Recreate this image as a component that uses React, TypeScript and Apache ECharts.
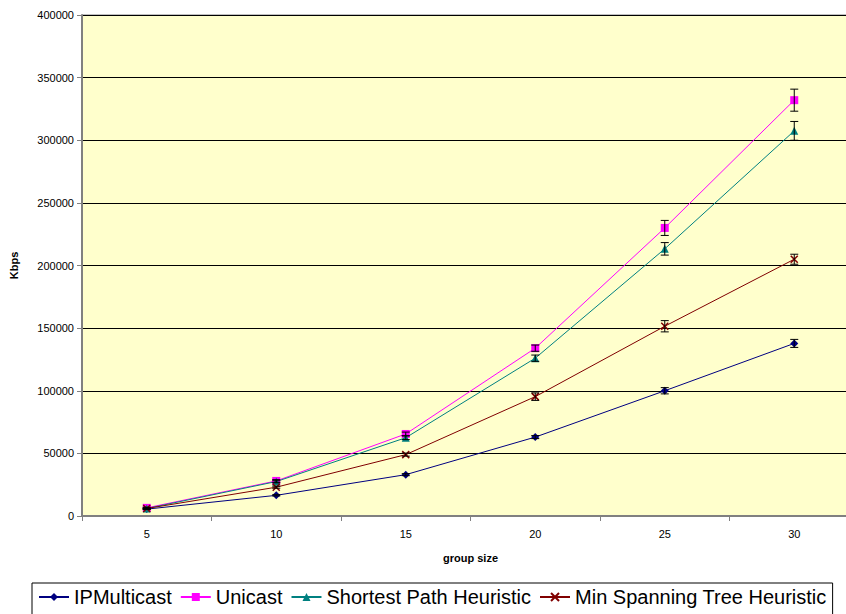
import React, { useEffect, useRef } from "react";
import * as echarts from "echarts";

const categories = ["5", "10", "15", "20", "25", "30"];
const yTicks = [0, 50000, 100000, 150000, 200000, 250000, 300000, 350000, 400000];

const ipMulticast = [5500, 16500, 33000, 63000, 100000, 137800];
const unicast = [6500, 28000, 65500, 134000, 230000, 332000];
const shortestPath = [6000, 27500, 62500, 126000, 213300, 307500];
const minSpanning = [6000, 23000, 49000, 95300, 151500, 205000];

const ipErr = [300, 500, 800, 1200, 2500, 3200];
const uniErr = [500, 1000, 1500, 2500, 6000, 8800];
const spErr = [500, 1000, 1500, 2500, 5000, 7500];
const mstErr = [400, 800, 1200, 3000, 4500, 4000];

const names = ["IPMulticast", "Unicast", "Shortest Path Heuristic", "Min Spanning Tree Heuristic"];
const colors = ["#000080", "#FF00FF", "#008080", "#800000"];

function errData(vals: number[], errs: number[]) {
  return vals.map((v, i) => [i, v - errs[i], v + errs[i]]);
}

export default function App() {
  const ref = useRef<HTMLDivElement>(null);
  useEffect(() => {
    if (!ref.current) return;
    const chart = echarts.init(ref.current, undefined, { renderer: "svg" });
    const font = "Liberation Sans, Arial, sans-serif";
    const seriesVals = [ipMulticast, unicast, shortestPath, minSpanning];
    const seriesErrs = [ipErr, uniErr, spErr, mstErr];
    const symbols = ["diamond", "rect", "triangle", "path://M0,0L10,10M10,0L0,10"];
    const sizes = [8, 8, 8, 7];
    const lineSeries = seriesVals.map((vals, k) => ({
      name: names[k],
      type: "line",
      data: vals,
      symbol: symbols[k],
      symbolSize: sizes[k],
      showSymbol: true,
      lineStyle: { color: colors[k], width: 1 },
      itemStyle:
        k === 3
          ? { color: "rgba(0,0,0,0)", borderColor: colors[k], borderWidth: 1.5 }
          : { color: colors[k], borderWidth: 0 },
      z: 3,
    }));
    const errSeries = seriesVals.map((vals, k) => ({
      type: "custom",
      data: errData(vals, seriesErrs[k]),
      z: 4,
      silent: true,
      renderItem: (params: any, api: any) => {
        const x = api.value(0);
        const lo = api.coord([x, api.value(1)]);
        const hi = api.coord([x, api.value(2)]);
        const w = 4;
        const style = { stroke: "#000", lineWidth: 1 };
        return {
          type: "group",
          children: [
            { type: "line", shape: { x1: lo[0], y1: lo[1], x2: hi[0], y2: hi[1] }, style },
            { type: "line", shape: { x1: lo[0] - w, y1: lo[1], x2: lo[0] + w, y2: lo[1] }, style },
            { type: "line", shape: { x1: hi[0] - w, y1: hi[1], x2: hi[0] + w, y2: hi[1] }, style },
          ],
        };
      },
    }));
    chart.setOption({
      animation: false,
      backgroundColor: "#ffffff",
      grid: {
        left: 81,
        right: 0,
        top: 15,
        bottom: 98,
        show: true,
        backgroundColor: "#FFFFCC",
        borderColor: "#808080",
        borderWidth: 1,
      },
      legend: {
        data: names,
        left: 32,
        top: 583,
        padding: [4, 6, 10, 6],
        itemGap: 8,
        itemWidth: 30,
        itemHeight: 10,
        borderColor: "#000",
        borderWidth: 1,
        textStyle: { fontSize: 20, fontFamily: font, color: "#000" },
      },
      xAxis: {
        type: "category",
        data: categories,
        boundaryGap: true,
        name: "group size",
        nameLocation: "middle",
        nameGap: 36,
        nameTextStyle: { fontSize: 11, fontWeight: "bold", fontFamily: font, color: "#000" },
        axisLine: { lineStyle: { color: "#808080", width: 2 } },
        axisTick: { show: true, alignWithLabel: false, length: 5, lineStyle: { color: "#808080" } },
        axisLabel: { fontSize: 11, fontFamily: font, color: "#000", margin: 12 },
        splitLine: { show: false },
      },
      yAxis: {
        type: "value",
        min: yTicks[0],
        max: yTicks[yTicks.length - 1],
        interval: yTicks[1] - yTicks[0],
        name: "Kbps",
        nameLocation: "middle",
        nameGap: 63,
        nameRotate: 90,
        nameTextStyle: { fontSize: 11, fontWeight: "bold", fontFamily: font, color: "#000" },
        axisLine: { show: true, lineStyle: { color: "#808080", width: 2 } },
        axisTick: { show: true, length: 5, lineStyle: { color: "#808080" } },
        axisLabel: {
          fontSize: 11,
          fontFamily: font,
          color: "#000",
          margin: 8,
          formatter: (v: number) => String(v),
        },
        splitLine: { show: true, lineStyle: { color: "#000", width: 1 } },
      },
      series: [...lineSeries, ...errSeries],
    });
    return () => chart.dispose();
  }, []);
  return (
    <div style={{ position: "fixed", left: 0, top: 0, width: 846, height: 614, overflow: "hidden" }}>
      <div ref={ref} style={{ width: 859, height: 614 }} />
    </div>
  );
}
